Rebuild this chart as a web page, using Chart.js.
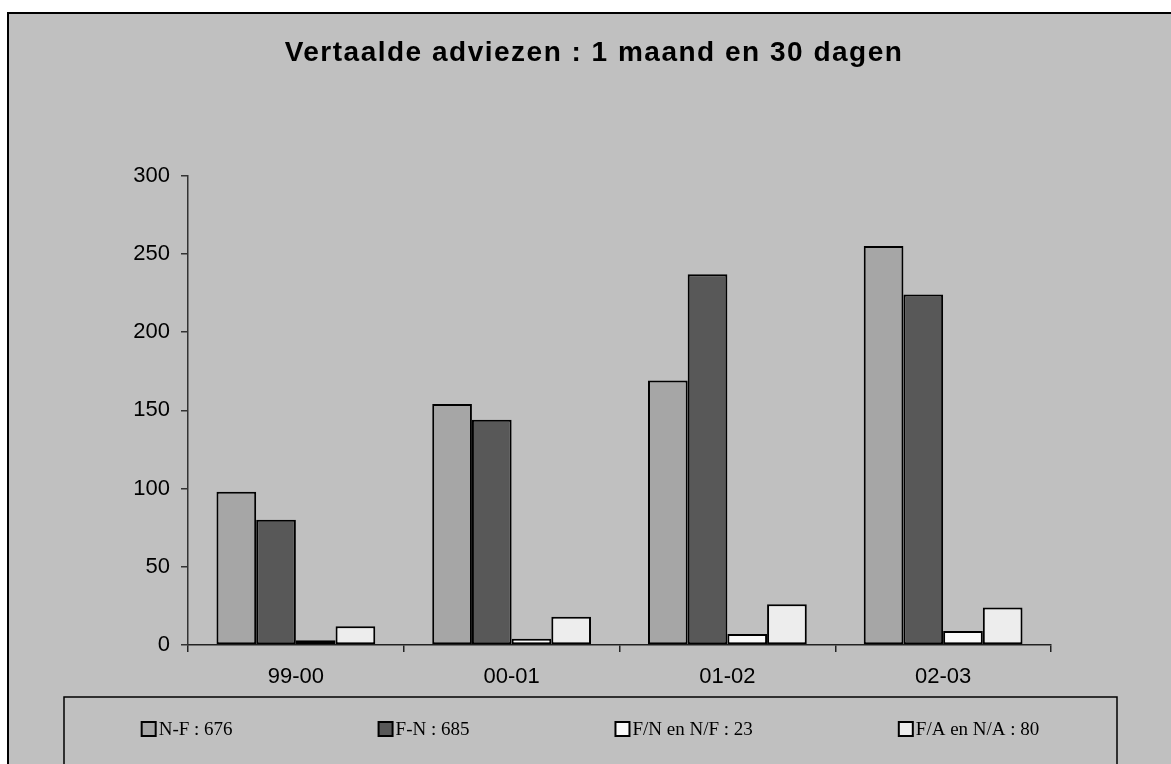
<!DOCTYPE html>
<html>
<head>
<meta charset="utf-8">
<script src="https://cdn.jsdelivr.net/npm/chart.js@4/dist/chart.umd.min.js"></script>
<style>
  body { margin: 0; background: #fff; }
</style>
</head>
<body>
<canvas id="chart" width="1171" height="764"></canvas>
<script>
// data
const years = ['99-00', '00-01', '01-02', '02-03'];
const nf = [98, 154, 169, 255];
const fn = [80, 144, 237, 224];
const fnNf = [3, 4, 7, 9];
const faNa = [12, 18, 26, 24];
const seriesLabels = ['N-F : 676', 'F-N : 685', 'F/N en N/F : 23', 'F/A en N/A : 80'];
const yTicks = [0, 50, 100, 150, 200, 250, 300];

const colors = ['#a6a6a6', '#585858', '#fafafa', '#ededed'];

// gray frame behind everything + boxed legend at the bottom
const framePlugin = {
  id: 'frame',
  beforeDraw(chart) {
    const ctx = chart.ctx;
    // title in the original is spaced out a bit
    const tb = chart.titleBlock;
    if (tb && !tb._spaced) {
      const draw = tb.draw;
      tb.draw = function (area) {
        this.ctx.save();
        this.ctx.letterSpacing = '1.5px';
        draw.call(this, area);
        this.ctx.restore();
      };
      tb._spaced = true;
    }
    ctx.save();
    ctx.fillStyle = '#fff';
    ctx.fillRect(0, 0, chart.width, chart.height);
    ctx.fillStyle = '#c0c0c0';
    ctx.fillRect(8, 13, chart.width, chart.height);
    ctx.strokeStyle = '#000';
    ctx.lineWidth = 2;
    ctx.beginPath();
    ctx.moveTo(8, chart.height);
    ctx.lineTo(8, 13);
    ctx.lineTo(chart.width, 13);
    ctx.stroke();
    ctx.restore();
  },
  afterDraw(chart) {
    const ctx = chart.ctx;
    const boxLeft = 64, boxRight = 1117, boxTop = 697;
    const y = 729, sw = 14, gap = 146;
    ctx.save();
    ctx.strokeStyle = '#000';
    ctx.lineWidth = 1.5;
    ctx.strokeRect(boxLeft, boxTop, boxRight - boxLeft, chart.height);
    ctx.font = '19px "Liberation Serif"';
    ctx.textBaseline = 'middle';
    const items = chart.data.datasets.map(ds => ({
      ds, w: sw + 3 + ctx.measureText(ds.label).width
    }));
    const rowW = items.reduce((s, it) => s + it.w, 0) + gap * (items.length - 1);
    let x = (boxLeft + boxRight - rowW) / 2;
    items.forEach(it => {
      ctx.fillStyle = it.ds.backgroundColor;
      ctx.fillRect(x, y - sw / 2, sw, sw);
      ctx.lineWidth = 2;
      ctx.strokeRect(x, y - sw / 2, sw, sw);
      ctx.fillStyle = '#000';
      ctx.fillText(it.ds.label, x + sw + 3, y + 1);
      x += it.w + gap;
    });
    ctx.restore();
  }
};

const series = [nf, fn, fnNf, faNa];

new Chart(document.getElementById('chart'), {
  type: 'bar',
  data: {
    labels: years,
    datasets: series.map((d, i) => ({
      label: seriesLabels[i],
      data: d,
      backgroundColor: colors[i],
      borderColor: '#000',
      borderWidth: 2,
      borderSkipped: false,
      categoryPercentage: 0.736,
      barPercentage: 1
    }))
  },
  options: {
    responsive: false,
    animation: false,
    layout: { padding: { left: 17, right: 0, top: 0, bottom: 0 } },
    plugins: {
      legend: { display: false },
      tooltip: { enabled: false },
      title: {
        display: true,
        text: 'Vertaalde adviezen : 1 maand en 30 dagen',
        color: '#000',
        font: { family: '"Liberation Sans", Arial', size: 28, weight: 'bold' },
        padding: { top: 36, bottom: 106 }
      }
    },
    scales: {
      x: {
        ticks: {
          color: '#000',
          padding: 12,
          font: { family: '"Liberation Sans", Arial', size: 22 }
        },
        grid: { drawOnChartArea: false, tickLength: 7, color: '#222', lineWidth: 1.5 },
        border: { color: '#222', width: 1.5 },
        afterFit(s) { s.height = 119; }
      },
      y: {
        min: 0,
        max: 300,
        afterBuildTicks(s) { s.ticks = yTicks.map(v => ({ value: v })); },
        ticks: {
          color: '#000',
          padding: 11,
          font: { family: '"Liberation Sans", Arial', size: 22 }
        },
        grid: { drawOnChartArea: false, tickLength: 7, color: '#333', lineWidth: 1.5 },
        border: { color: '#333', width: 1.5 },
        afterFit(s) { s.width = 171; }
      },
      pad: {
        type: 'linear',
        position: 'right',
        display: true,
        grid: { display: false },
        border: { display: false },
        ticks: { display: false },
        afterFit(s) { s.width = 120; }
      }
    }
  },
  plugins: [framePlugin]
});
</script>
</body>
</html>
